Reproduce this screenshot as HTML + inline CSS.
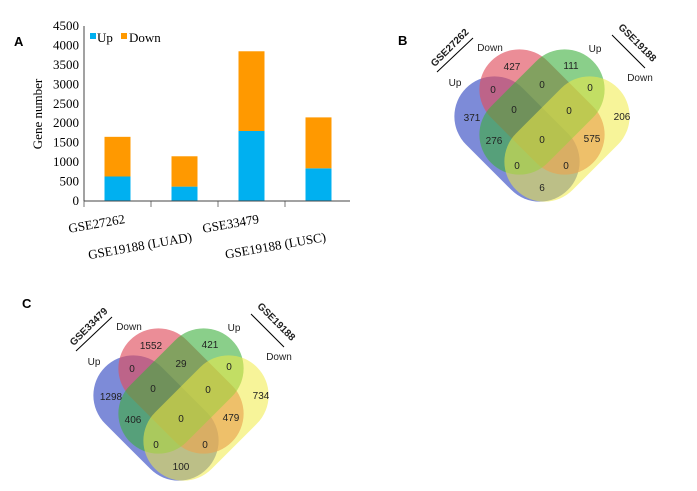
<!DOCTYPE html>
<html><head><meta charset="utf-8"><style>
body{margin:0;background:#fff;width:697px;height:491px;overflow:hidden}
svg{position:absolute;left:0;top:0}
.lbl{font-family:"Liberation Sans",sans-serif;font-weight:bold;font-size:13px}
.v{font-family:"Liberation Sans",sans-serif;font-size:10px;text-anchor:middle;fill:#222}
.t{font-family:"Liberation Serif",serif;font-size:13px}
</style></head><body>
<svg width="697" height="491">
<text class="lbl" x="14" y="46">A</text>
<text class="lbl" x="398" y="45">B</text>
<text class="lbl" x="22" y="308">C</text>
<g id="chart"></g>
<g id="vennB"></g>
<g id="vennC" transform="translate(-361,279)"></g>
</svg>
<script>
const categories=["GSE27262","GSE19188 (LUAD)","GSE33479","GSE19188 (LUSC)"];
const upValues=[630,370,1800,840];
const downValues=[1020,780,2050,1310];
const yTicks=[0,500,1000,1500,2000,2500,3000,3500,4000,4500];
const vennBValues=[427,111,0,0,0,371,0,0,206,276,0,575,0,0,6];
const vennCValues=[1552,421,0,29,0,1298,0,0,734,406,0,479,0,0,100];
const NS="http://www.w3.org/2000/svg";
function mk(p,tag,attrs,txt){const e=document.createElementNS(NS,tag);for(const k in attrs)e.setAttribute(k,attrs[k]);if(txt!==undefined)e.textContent=txt;p.appendChild(e);return e;}
const x0=84,y0=201,yTop=26,cw=67,bw=26;
const ys=v=>y0-(v/4500)*(y0-yTop);
const xc=i=>x0+cw*i+cw/2;
const g=document.getElementById('chart');
yTicks.forEach(t=>{const e=mk(g,'text',{class:'t',x:x0-5,y:ys(t)+4,'text-anchor':'end'},t);

});
categories.forEach((c,i)=>{
const u=mk(g,'rect',{x:xc(i)-bw/2,y:ys(upValues[i]),width:bw,height:y0-ys(upValues[i]),fill:'#00b0f0'});


const tot=upValues[i]+downValues[i];
const d=mk(g,'rect',{x:xc(i)-bw/2,y:ys(tot),width:bw,height:ys(upValues[i])-ys(tot),fill:'#ff9900'});


const tk=mk(g,'line',{x1:x0+cw*i,x2:x0+cw*i,y1:y0,y2:y0+6,stroke:'#777'});


const lx=xc(i)+8, ly=(i%2?241:223);
const l=mk(g,'text',{class:'t',x:lx,y:ly,'text-anchor':'end',transform:`rotate(-10 ${lx} ${ly})`},c);


});
const ax=mk(g,'line',{x1:x0,x2:x0,y1:yTop,y2:y0,stroke:'#444'});


const bx=mk(g,'line',{x1:x0,x2:350,y1:y0,y2:y0,stroke:'#444'});


const yt=mk(g,'text',{class:'t',x:42,y:114,'text-anchor':'middle',transform:'rotate(-90 42 114)','font-size':'14'},'Gene number');


const lg=mk(g,'g',{});


mk(lg,'rect',{x:90,y:33,width:6,height:6,fill:'#00b0f0'});
mk(lg,'text',{class:'t',x:97,y:42},'Up');
mk(lg,'rect',{x:121,y:33,width:6,height:6,fill:'#ff9900'});
mk(lg,'text',{class:'t',x:129,y:42},'Down');

const pos=[[512,66],[571,65],[493,89],[542,84],[590,87],[472,117],[514,109],[569,110],[622,116],[494,140],[542,139],[592,138],[517,165],[566,165],[542,187]];
function venn(id,vals,leftName){
const p=document.getElementById(id);
const sets=[[517,139,45,'rgba(70,90,200,0.7)','set-left-up'],[542,112,45,'rgba(225,80,95,0.65)','set-left-down'],[542,112,-45,'rgba(60,175,60,0.6)','set-right-up'],[567,139,-45,'rgba(240,235,70,0.55)','set-right-down']];
sets.forEach(s=>{const r=mk(p,'rect',{x:-72,y:-40,width:144,height:80,rx:40,fill:s[3],transform:`translate(${s[0]},${s[1]}) rotate(${s[2]})`});

});
vals.forEach((v,i)=>{const t=mk(p,'text',{class:'v',x:pos[i][0],y:pos[i][1]+4},v);

});
[['Down',490,51],['Up',595,52],['Up',455,86],['Down',640,81]].forEach(a=>{const t=mk(p,'text',{class:'v',x:a[1],y:a[2],'font-size':'11'},a[0]);

});
mk(p,'line',{x1:437,y1:72,x2:473,y2:38,stroke:'#000'});
mk(p,'line',{x1:612,y1:35,x2:645,y2:68,stroke:'#000'});
const a=mk(p,'text',{class:'v','font-weight':'bold','font-size':'8',x:452,y:50,transform:'rotate(-45 452 50)'},leftName);


const b=mk(p,'text',{class:'v','font-weight':'bold','font-size':'8',x:635,y:45,transform:'rotate(45 635 45)'},'GSE19188');


}
venn('vennB',vennBValues,'GSE27262');
venn('vennC',vennCValues,'GSE33479');
</script>
</body></html>
